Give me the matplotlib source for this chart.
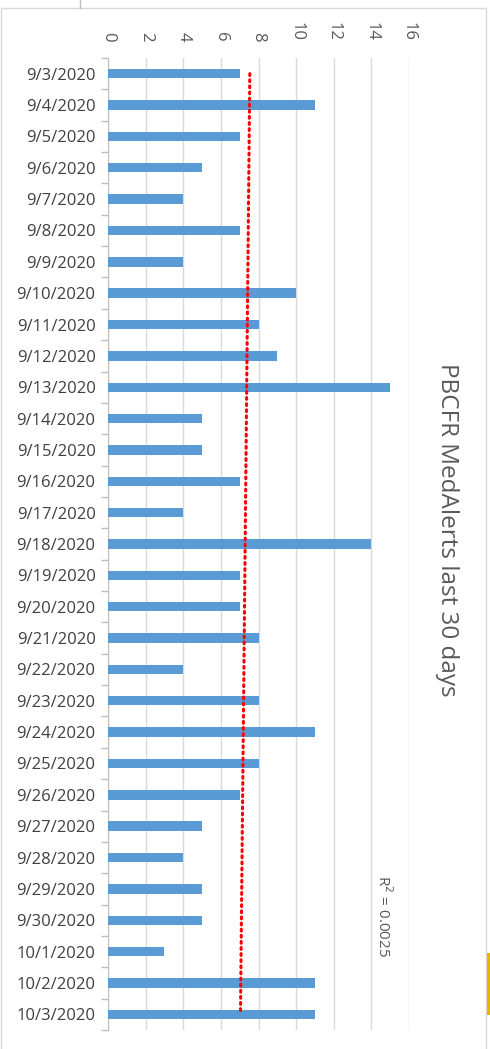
import numpy as np
import matplotlib
matplotlib.use("Agg")
import matplotlib.pyplot as plt
from matplotlib.patches import Rectangle
from matplotlib.lines import Line2D

# daily MedAlert counts
dates = ['9/3/2020', '9/4/2020', '9/5/2020', '9/6/2020', '9/7/2020', '9/8/2020',
         '9/9/2020', '9/10/2020', '9/11/2020', '9/12/2020', '9/13/2020', '9/14/2020',
         '9/15/2020', '9/16/2020', '9/17/2020', '9/18/2020', '9/19/2020', '9/20/2020',
         '9/21/2020', '9/22/2020', '9/23/2020', '9/24/2020', '9/25/2020', '9/26/2020',
         '9/27/2020', '9/28/2020', '9/29/2020', '9/30/2020', '10/1/2020', '10/2/2020',
         '10/3/2020']
alerts = [7, 11, 7, 5, 4, 7, 4, 10, 8, 9, 15, 5, 5, 7, 4, 14, 7, 7, 8, 4,
          8, 11, 8, 7, 5, 4, 5, 5, 3, 11, 11]
xticks = [0, 2, 4, 6, 8, 10, 12, 14, 16]
title = 'PBCFR MedAlerts last 30 days'
r2_label = 'R$^2$ = 0.0025'

plt.rcParams['font.family'] = ['Open Sans', 'DejaVu Sans']

W, H = 490, 1049
fig = plt.figure(figsize=(W / 100, H / 100), dpi=100)
ax = fig.add_axes([108 / W, 1 - 1030 / H, (409 - 108) / W, (1030 - 58) / H])

pos = np.arange(len(dates))
ax.barh(pos, alerts, height=0.3, color='#5B9BD5', zorder=3)

# linear trendline (Excel style)
k, b = np.polyfit(pos, alerts, 1)
ax.plot(k * pos + b, pos, color='#FF0000', lw=2.2, linestyle=(0, (0.6, 1.4)),
        dash_capstyle='round', zorder=4)

ax.set_xlim(0, 16)
ax.set_ylim(len(dates) - 0.5, -0.5)
ax.set_xticks(xticks)
ax.xaxis.tick_top()
ax.tick_params(axis='x', length=0, pad=12, labelsize=12, labelcolor='#595959',
               labelrotation=-90)
ax.grid(axis='x', color='#D9D9D9', lw=1, zorder=0)

ax.set_yticks(pos)
ax.set_yticklabels(dates)
ax.set_yticks(np.arange(-0.5, len(dates) + 0.5, 1), minor=True)
ax.tick_params(axis='y', which='major', length=0, pad=9, labelsize=12,
               labelcolor='#404040')
ax.tick_params(axis='y', which='minor', length=5, color='#BFBFBF', width=1)

for s in ['top', 'right', 'bottom']:
    ax.spines[s].set_visible(False)
ax.spines['left'].set_color('#BFBFBF')

fig.text(447 / W, 1 - 530 / H, title, rotation=-90, fontsize=17.5,
         color='#595959', ha='center', va='center')
fig.text(383 / W, 1 - 916 / H, r2_label, rotation=-90, fontsize=11,
         color='#595959', ha='center', va='center')

# chart frame and bits of the surrounding sheet
fig.patches.append(Rectangle((1 / W, -0.01), 485 / W, 1 - 8 / H + 0.01,
                             transform=fig.transFigure, fill=False,
                             edgecolor='#D9D9D9', lw=1))
fig.lines.append(Line2D([80 / W, 80 / W], [1 - 8 / H, 1], transform=fig.transFigure,
                        color='#BFBFBF', lw=1))
fig.patches.append(Rectangle((487 / W, 1 - 1015 / H), 3 / W, 62 / H,
                             transform=fig.transFigure, color='#F0B000', lw=0))

fig.savefig('out.png', dpi=100, facecolor='white')
